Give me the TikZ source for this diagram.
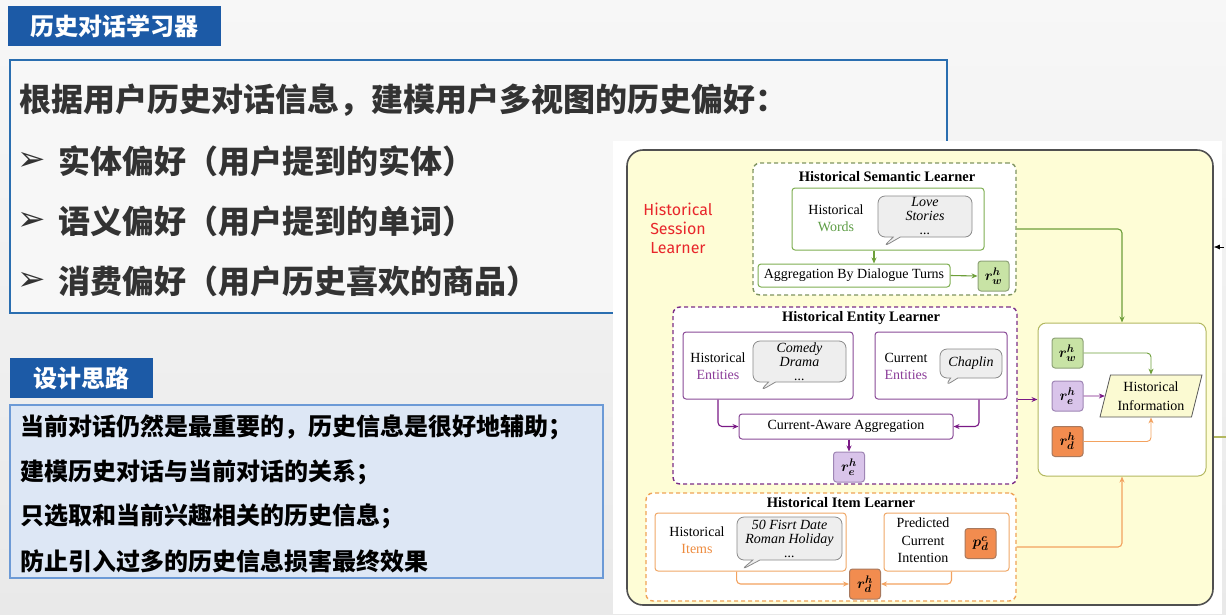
\documentclass[tikz,border=0pt]{standalone}
\usepackage{fontspec}
\usepackage{bm}
\setmainfont{Liberation Serif}
\newfontfamily\cjk{Noto Sans CJK SC}
\newfontfamily\dejavu{DejaVu Sans}
\newfontfamily\redfont{Fira Sans}
\usetikzlibrary{calc,arrows.meta,positioning,shapes.geometric,shapes.callouts}

\definecolor{bgtop}{HTML}{F7F7F7}
\definecolor{bgbottom}{HTML}{E9E9E9}
\definecolor{slideblue}{HTML}{1C5AA6}
\definecolor{boxblue}{HTML}{2A6EB0}
\definecolor{slidegray}{HTML}{333333}
\definecolor{ideafill}{HTML}{DDE7F5}
\definecolor{ideaborder}{HTML}{6C9AD6}
\definecolor{panelyellow}{HTML}{FEFDD6}
\definecolor{panelline}{HTML}{505050}
\definecolor{sessred}{HTML}{E8262B}
\definecolor{semdash}{HTML}{7F9460}
\definecolor{semcard}{HTML}{7FAF52}
\definecolor{semarrow}{HTML}{6E9F3A}
\definecolor{wordgreen}{HTML}{5E9E46}
\definecolor{repgreen}{HTML}{C8E3A5}
\definecolor{repgreenline}{HTML}{8FA378}
\definecolor{entdash}{HTML}{7B2D87}
\definecolor{entcard}{HTML}{8A4B98}
\definecolor{entarrow}{HTML}{7A1A86}
\definecolor{enttext}{HTML}{8B3C99}
\definecolor{reppurple}{HTML}{D9C4EA}
\definecolor{reppurpleline}{HTML}{9F86B5}
\definecolor{itemdash}{HTML}{EFA356}
\definecolor{itemcard}{HTML}{F0A868}
\definecolor{itemarrow}{HTML}{F3A25F}
\definecolor{itemtext}{HTML}{EE8B3E}
\definecolor{reporange}{HTML}{F28C4F}
\definecolor{reporangeline}{HTML}{A8795E}
\definecolor{infoline}{HTML}{B3B860}
\definecolor{parafill}{HTML}{FBFAD2}
\definecolor{paraline}{HTML}{555555}
\definecolor{bubblefill}{HTML}{EEEEEE}
\definecolor{bubbleline}{HTML}{8A8A8A}

\tikzset{
  tabhead/.style={fill=slideblue,text=white,inner sep=0pt,font=\cjk\bfseries\fontsize{24}{24}\selectfont},
  slidetext/.style={anchor=west,inner sep=0pt,text=slidegray,font=\cjk\bfseries\fontsize{32}{32}\selectfont},
  ideatext/.style={anchor=west,inner sep=0pt,text=black,font=\cjk\bfseries\fontsize{24}{24}\selectfont},
  learner/.style={draw=#1,fill=white,line width=1.4pt,dash pattern=on 4pt off 3pt,rounded corners=7pt,inner sep=0pt},
  card/.style={draw=#1,fill=white,line width=1pt,rounded corners=3pt,inner sep=0pt},
  rep/.style 2 args={draw=#1,fill=#2,line width=1pt,rounded corners=3pt,minimum width=31pt,minimum height=30pt,inner sep=0pt,font=\fontsize{15}{15}\selectfont},
  bubble/.style={shape=rectangle callout,draw=bubbleline,fill=bubblefill,line width=0.8pt,rounded corners=7pt,inner sep=0pt,align=center,font=\itshape\fontsize{14}{14}\selectfont},
  learnertitle/.style={inner sep=0pt,font=\bfseries\fontsize{14.5}{14.5}\selectfont},
  lbl/.style={inner sep=0pt,align=center,font=\fontsize{14}{17}\selectfont},
  redlbl/.style={inner sep=0pt,align=center,text=sessred,font=\redfont\fontsize{16}{19}\selectfont},
}

\begin{document}
\begin{tikzpicture}[x=1pt,y=-1pt,>={Stealth[length=6pt,width=5pt]},line width=1.1pt,font=\fontsize{14}{17}\selectfont]
 \fill[top color=bgtop,bottom color=bgbottom] (0,0) rectangle (1226,614);
 \useasboundingbox (0,0) rectangle (1226,614);

 % left half of the slide
 \node[tabhead,minimum width=213pt,minimum height=40pt] (histtab) at (114.5,26) {历史对话学习器};
 \node[draw=boxblue,line width=2pt,fill=bgtop,minimum width=937pt,minimum height=253pt,inner sep=0pt] (prefbox) at (478.5,186.5) {};
 \node[slidetext] (prefhead) at (19,100) {根据用户历史对话信息，建模用户多视图的历史偏好：};
 \foreach \y/\t [count=\i] in {161/实体偏好（用户提到的实体）,221/语义偏好（用户提到的单词）,281/消费偏好（用户历史喜欢的商品）} {
   \node[inner sep=0pt,text=slidegray,font=\dejavu\fontsize{34}{34}\selectfont] (mark\i) at (32,\y) {➢};
   \node[slidetext] (pref\i) at (58,\y) {\t};
 }
 \node[tabhead,minimum width=143pt,minimum height=40pt] (ideatab) at (81.5,378) {设计思路};
 \node[draw=ideaborder,line width=1.2pt,fill=ideafill,minimum width=593pt,minimum height=173pt,inner sep=0pt] (ideabox) at (306.5,491.5) {};
 \node[ideatext] (idea1) at (20,427) {当前对话仍然是最重要的，历史信息是很好地辅助；};
 \node[ideatext] (idea2) at (20,472) {建模历史对话与当前对话的关系；};
 \node[ideatext] (idea3) at (20,516) {只选取和当前兴趣相关的历史信息；};
 \node[ideatext] (idea4) at (20,561) {防止引入过多的历史信息损害最终效果};

 % pasted figure
 \fill[white] (613,141) rectangle (1222,614);
 \node[draw=panelline,line width=1.6pt,fill=panelyellow,rounded corners=16pt,minimum width=586pt,minimum height=455pt,inner sep=0pt] (panel) at (920,377.5) {};
 \node[redlbl] (sesslbl) at (678,228) {Historical\\Session\\Learner};

 % semantic learner
 \node[learner=semdash,minimum width=263pt,minimum height=132pt] (semlearn) at (884.5,229) {};
 \node[learnertitle] (semtitle) at (887,177) {Historical Semantic Learner};
 \node[card=semcard,minimum width=192pt,minimum height=62pt] (words) at (888,219) {};
 \node[lbl] (wordslbl) at (836,218.5) {Historical\\\textcolor{wordgreen}{Words}};
 \node[bubble,minimum width=94pt,minimum height=41pt,callout absolute pointer={(883,247)}] (wordsbub) at (925,216.5) {Love\\Stories\\...};
 \node[card=semcard,minimum width=192pt,minimum height=23pt] (aggturn) at (854,275.5) {Aggregation By Dialogue Turns};
 \node[rep={repgreenline}{repgreen}] (rwsem) at (993.5,276) {$\bm{r^h_w}$};
 \draw[->,semarrow] (words.south -| 874,0) -- (aggturn.north -| 874,0);
 \draw[->,semarrow] (aggturn.east) -- (rwsem.west);

 % entity learner
 \node[learner=entdash,minimum width=344pt,minimum height=177pt] (entlearn) at (845,395.5) {};
 \node[learnertitle] (enttitle) at (861,318) {Historical Entity Learner};
 \node[card=entcard,minimum width=170pt,minimum height=67pt] (hent) at (768,365.5) {};
 \node[lbl] (hentlbl) at (718,366.5) {Historical\\\textcolor{enttext}{Entities}};
 \node[bubble,minimum width=93pt,minimum height=41pt,callout absolute pointer={(760,391)}] (hentbub) at (799.5,361.5) {Comedy\\Drama\\...};
 \node[card=entcard,minimum width=132pt,minimum height=67pt] (curent) at (941,365.5) {};
 \node[lbl] (curentlbl) at (906,366.5) {Current\\\textcolor{enttext}{Entities}};
 \node[bubble,minimum width=62pt,minimum height=29pt,callout absolute pointer={(945,386)}] (chaplin) at (971,363.5) {Chaplin};
 \node[card=entcard,minimum width=214pt,minimum height=25pt] (curagg) at (846,426.5) {Current-Aware Aggregation};
 \node[rep={reppurpleline}{reppurple}] (reent) at (849,467) {$\bm{r^h_e}$};
 \draw[->,entarrow,rounded corners=4pt] (hentlbl |- hent.south) |- (curagg.west);
 \draw[->,entarrow,rounded corners=4pt] ([xshift=38pt]curent.south) |- (curagg.east);
 \draw[->,entarrow] (curagg.south -| reent) -- (reent.north);

 % item learner
 \node[learner=itemdash,minimum width=370pt,minimum height=108pt] (itemlearn) at (831,547) {};
 \node[learnertitle] (itemtitle) at (841,503) {Historical Item Learner};
 \node[card=itemcard,minimum width=191pt,minimum height=58pt] (hitem) at (750.5,542) {};
 \node[lbl] (hitemlbl) at (697,540.5) {Historical\\\textcolor{itemtext}{Items}};
 \node[bubble,minimum width=105pt,minimum height=43pt,callout absolute pointer={(741,570)}] (itembub) at (789.5,538.5) {50 Fisrt Date\\Roman Holiday\\...};
 \node[card=itemcard,minimum width=125pt,minimum height=58pt] (pred) at (946.5,542) {};
 \node[lbl,font=\fontsize{14}{17.5}\selectfont] (predlbl) at (923,540.5) {Predicted\\Current\\Intention};
 \node[rep={reporangeline}{reporange}] (pdc) at (980.5,543.5) {$\bm{p^c_d}$};
 \node[rep={reporangeline}{reporange}] (rditem) at (865,584) {$\bm{r^h_d}$};
 \draw[->,itemarrow,rounded corners=4pt] (itembub.west |- hitem.south) |- (rditem.west);
 \draw[->,itemarrow,rounded corners=4pt] ([xshift=5pt]pred.south) |- (rditem.east);

 % historical information
 \node[card=infoline,rounded corners=8pt,minimum width=168pt,minimum height=153pt] (infobox) at (1122,399.5) {};
 \node[rep={repgreenline}{repgreen}] (rwinfo) at (1067.5,353) {$\bm{r^h_w}$};
 \node[rep={reppurpleline}{reppurple}] (reinfo) at (1067.5,396) {$\bm{r^h_e}$};
 \node[rep={reporangeline}{reporange}] (rdinfo) at (1067.5,441.5) {$\bm{r^h_d}$};
 \node[trapezium,trapezium left angle=70,trapezium right angle=110,trapezium stretches body,draw=paraline,fill=parafill,line width=0.8pt,minimum width=102pt,minimum height=42pt,inner sep=0pt,align=center,font=\fontsize{14}{19}\selectfont] (hinfo) at (1151,396) {Historical\\Information};
 \draw[->,semarrow,line width=0.9pt,rounded corners=4pt] (rwinfo.east) -| (hinfo.north);
 \draw[->,entarrow,line width=0.9pt] (reinfo.east) -- (hinfo.west);
 \draw[->,itemarrow,line width=0.9pt,rounded corners=4pt] (rdinfo.east) -| (hinfo.south);

 % learners into the information box
 \draw[->,semarrow,rounded corners=4pt] (semlearn.east) -| (infobox.north);
 \draw[->,entarrow] (entlearn.east |- infobox.west) -- (infobox.west);
 \draw[->,itemarrow,rounded corners=4pt] (itemlearn.east) -| (infobox.south);

 % cut-off connectors at the right edge
 \coordinate (rightcut) at (1224,247);
 \draw[-{Latex[length=6pt,width=5pt]},black,line width=0.6pt] (rightcut) -- (rightcut -| panel.east);
 \coordinate (rightout) at (1226,437);
 \draw[infoline,line width=1.2pt] (rightout -| panel.east) -- (rightout);
\end{tikzpicture}
\end{document}
